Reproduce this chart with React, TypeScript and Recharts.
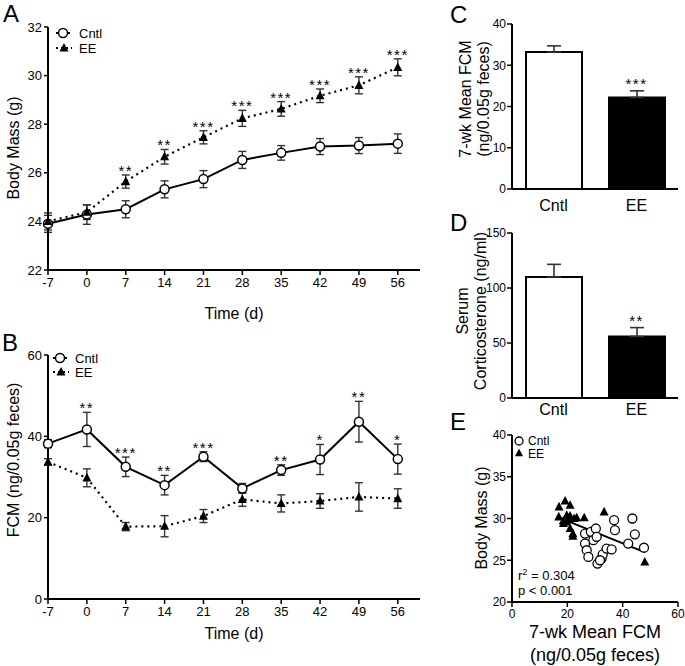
import React from "react";
import {
  ComposedChart,
  ScatterChart,
  Line,
  Bar,
  Cell,
  Scatter,
  XAxis,
  YAxis,
  ErrorBar,
  LabelList,
  Label,
  ReferenceLine,
} from "recharts";

const FONT = "'Liberation Sans', Arial, Helvetica, sans-serif";

// A / B: weekly time points
const days = [-7, 0, 7, 14, 21, 28, 35, 42, 49, 56];

// A: body mass (g)
const massCntl = [23.9, 24.28, 24.5, 25.32, 25.74, 26.53, 26.82, 27.08, 27.12, 27.2];
const massCntlErr = [0.35, 0.4, 0.35, 0.35, 0.35, 0.35, 0.3, 0.33, 0.33, 0.4];
const massEE = [24.0, 24.38, 25.64, 26.66, 27.46, 28.24, 28.63, 29.17, 29.6, 30.34];
const massEEErr = [0.35, 0.3, 0.27, 0.3, 0.27, 0.33, 0.3, 0.28, 0.35, 0.35];
const massStars = ["", "", "**", "**", "***", "***", "***", "***", "***", "***"];

// B: FCM (ng/0.05g feces)
const fcmCntl = [38.2, 41.7, 32.5, 28.0, 35.0, 27.2, 31.7, 34.3, 43.6, 34.4];
const fcmCntlErr = [1.0, 4.2, 2.4, 2.4, 1.2, 1.2, 1.3, 3.7, 5.0, 3.7];
const fcmEE = [33.7, 29.8, 17.8, 17.9, 20.4, 24.5, 23.5, 24.1, 25.1, 24.7];
const fcmEEErr = [0.8, 2.2, 1.0, 2.6, 1.6, 1.7, 2.1, 1.8, 3.5, 2.4];
const fcmStars = ["", "**", "***", "**", "***", "", "**", "*", "**", "*"];

// C / D: group bars
const groups = ["Cntl", "EE"];
const barFills = ["#fff", "#000"];
const meanFcm = [33.2, 22.2];
const meanFcmErr = [1.5, 1.6];
const meanFcmStars = ["", "***"];
const cort = [110, 55.9];
const cortErr = [11.5, 8.1];
const cortStars = ["", "**"];

// E: body mass vs 7-wk mean FCM
const cntlFcm = [26.4, 28.5, 30.3, 29.4, 30.6, 26.4, 27.0, 27.6, 30.9, 32.4, 32.8, 34.2, 36.0, 36.9, 37.2, 43.5, 44.4, 42.0, 47.7, 31.8];
const cntlMass = [28.2, 28.4, 28.8, 27.4, 27.8, 27.0, 26.2, 25.4, 24.6, 25.2, 25.7, 26.4, 26.3, 29.8, 28.6, 30.0, 28.1, 27.0, 26.5, 25.0];
const eeFcm = [19.2, 17.0, 21.0, 16.9, 19.8, 21.0, 22.5, 23.4, 26.1, 33.3, 18.6, 19.8, 21.0, 22.0, 22.0, 48.0, 20.3, 18.5];
const eeMass = [32.1, 31.4, 31.6, 30.2, 30.4, 30.3, 30.0, 30.1, 30.1, 30.8, 29.4, 29.6, 28.8, 28.2, 27.9, 24.8, 29.9, 29.7];
const fitFcm = [17, 47];
const fitMass = [30.1, 26.1];

const massData = days.map((d, i) => ({
  day: d,
  cntl: massCntl[i],
  cntlErr: massCntlErr[i],
  ee: massEE[i],
  eeErr: massEEErr[i],
  starY: massEE[i] + massEEErr[i],
  star: massStars[i],
}));

const fcmData = days.map((d, i) => ({
  day: d,
  cntl: fcmCntl[i],
  cntlErr: fcmCntlErr[i],
  ee: fcmEE[i],
  eeErr: fcmEEErr[i],
  starY: fcmCntl[i] + fcmCntlErr[i],
  star: fcmStars[i],
}));

const meanFcmData = groups.map((g, i) => ({
  group: g,
  v: meanFcm[i],
  err: [0, meanFcmErr[i]],
  starY: meanFcm[i] + meanFcmErr[i],
  star: meanFcmStars[i],
}));

const cortData = groups.map((g, i) => ({
  group: g,
  v: cort[i],
  err: [0, cortErr[i]],
  starY: cort[i] + cortErr[i],
  star: cortStars[i],
}));

const cntlPoints = cntlFcm.map((x, i) => ({ x, y: cntlMass[i] }));
const eePoints = eeFcm.map((x, i) => ({ x, y: eeMass[i] }));

const axisLine = { stroke: "#000", strokeWidth: 2 };
const tickLine = { stroke: "#000", strokeWidth: 1.5 };
const tickText = { fill: "#000", fontSize: 13, fontFamily: FONT };
const smallTick = { fill: "#000", fontSize: 12, fontFamily: FONT };
const catText = { fill: "#000", fontSize: 16, fontFamily: FONT };
const starStyle = { fill: "#000", fontSize: 15, fontFamily: FONT, letterSpacing: 1.5 };

const triPath = (cx: number, cy: number, s = 4.5) =>
  `M${cx},${cy - s - 0.5} L${cx + s},${cy + s * 0.8} L${cx - s},${cy + s * 0.8} Z`;

const CircleDot = (props: any) => {
  const { cx, cy } = props;
  if (cx == null || cy == null) return <g />;
  return <circle cx={cx} cy={cy} r={4.5} fill="#fff" stroke="#000" strokeWidth={1.5} />;
};

const TriangleDot = (props: any) => {
  const { cx, cy } = props;
  if (cx == null || cy == null) return <g />;
  return <path d={triPath(cx, cy)} fill="#000" />;
};

// rotated axis title, one or more lines
const VTitle = (props: any) => {
  const { lines, tx, ty, size = 16, gap = 19 } = props;
  return (
    <g>
      {lines.map((t: string, i: number) => {
        const x = tx + i * gap;
        return (
          <text
            key={i}
            x={x}
            y={ty}
            transform={`rotate(-90 ${x} ${ty})`}
            textAnchor="middle"
            dominantBaseline="central"
            fontSize={size}
            fontFamily={FONT}
            fill="#000"
          >
            {t}
          </text>
        );
      })}
    </g>
  );
};

const HTitle = (props: any) => {
  const { lines, tx, ty, size = 16, gap = 23 } = props;
  return (
    <g>
      {lines.map((t: string, i: number) => (
        <text
          key={i}
          x={tx}
          y={ty + i * gap}
          textAnchor="middle"
          dominantBaseline="central"
          fontSize={size}
          fontFamily={FONT}
          fill="#000"
        >
          {t}
        </text>
      ))}
    </g>
  );
};

const LegendKey = ({ x, y, kind, label, tx }: any) => (
  <g>
    {kind === "cntl" ? (
      <>
        <line x1={x - 7} y1={y} x2={x + 7} y2={y} stroke="#000" strokeWidth={2} />
        <circle cx={x} cy={y} r={4.5} fill="#fff" stroke="#000" strokeWidth={1.5} />
      </>
    ) : (
      <>
        <line x1={x - 8} y1={y} x2={x + 8} y2={y} stroke="#000" strokeWidth={2} strokeDasharray="2 3" />
        <path d={triPath(x, y)} fill="#000" />
      </>
    )}
    <text x={tx} y={y} dominantBaseline="central" fontSize={13} fontFamily={FONT} fill="#000">
      {label}
    </text>
  </g>
);

const TimeChart = ({ data, height, top, yDomain, yTicks, title, titleY, xTitleOffset }: any) => (
  <ComposedChart
    width={440}
    height={height}
    data={data}
    margin={{ top, right: 20, bottom: 0, left: 8 }}
  >
    <XAxis
      dataKey="day"
      type="number"
      domain={[-7, 60]}
      ticks={days}
      interval={0}
      height={height - top - (height === 330 ? 243 : 244)}
      axisLine={axisLine}
      tickLine={tickLine}
      tickSize={5}
      tickMargin={3}
      tick={tickText}
    >
      <Label value="Time (d)" position="insideBottom" offset={xTitleOffset} style={{ fontSize: 16, fontFamily: FONT, fill: "#000" }} />
    </XAxis>
    <YAxis
      type="number"
      domain={yDomain}
      ticks={yTicks}
      interval={0}
      width={40}
      axisLine={axisLine}
      tickLine={tickLine}
      tickSize={4}
      tickMargin={2}
      tick={tickText}
    >
      <Label content={<VTitle lines={[title]} tx={13} ty={titleY} />} />
    </YAxis>
    <Line
      dataKey="cntl"
      stroke="#000"
      strokeWidth={2}
      dot={CircleDot}
      activeDot={false}
      isAnimationActive={false}
    >
      <ErrorBar dataKey="cntlErr" width={4} stroke="#333" strokeWidth={1.4} />
    </Line>
    <Line
      dataKey="ee"
      stroke="#000"
      strokeWidth={2.2}
      strokeDasharray="2 4"
      dot={TriangleDot}
      activeDot={false}
      isAnimationActive={false}
    >
      <ErrorBar dataKey="eeErr" width={4} stroke="#333" strokeWidth={1.4} />
    </Line>
    <Line dataKey="starY" stroke="none" dot={false} activeDot={false} isAnimationActive={false}>
      <LabelList dataKey="star" position="top" offset={-1} style={starStyle} />
    </Line>
  </ComposedChart>
);

const BarPanel = ({ data, height, top, yDomain, yTicks, lines, titleX, titleY, catMargin }: any) => (
  <ComposedChart
    width={245}
    height={height}
    data={data}
    margin={{ top, right: 7, bottom: 0, left: 0 }}
  >
    <XAxis
      dataKey="group"
      type="category"
      height={height - top - 165}
      axisLine={axisLine}
      tickLine={false}
      tickSize={0}
      tickMargin={catMargin}
      tick={catText}
    />
    <YAxis
      type="number"
      domain={yDomain}
      ticks={yTicks}
      interval={0}
      width={72}
      axisLine={axisLine}
      tickLine={tickLine}
      tickSize={5}
      tickMargin={1}
      tick={smallTick}
    >
      <Label content={<VTitle lines={lines} tx={titleX} ty={titleY} size={16} gap={18} />} />
    </YAxis>
    <Bar dataKey="v" barSize={56} stroke="#000" strokeWidth={2} isAnimationActive={false}>
      {data.map((_: any, i: number) => (
        <Cell key={i} fill={barFills[i]} />
      ))}
      <ErrorBar dataKey="err" width={7} stroke="#333" strokeWidth={1.6} />
    </Bar>
    <Line dataKey="starY" stroke="none" dot={false} activeDot={false} isAnimationActive={false}>
      <LabelList dataKey="star" position="top" offset={2} style={starStyle} />
    </Line>
  </ComposedChart>
);

const ScatterPanel = () => (
  <ScatterChart width={245} height={246} margin={{ top: 15, right: 7, bottom: 0, left: 0 }}>
    <XAxis
      dataKey="x"
      type="number"
      domain={[0, 60]}
      ticks={[0, 20, 40, 60]}
      interval={0}
      height={64}
      axisLine={axisLine}
      tickLine={tickLine}
      tickSize={5}
      tickMargin={2}
      tick={smallTick}
    >
      <Label content={<HTitle lines={["7-wk Mean FCM", "(ng/0.05g feces)"]} tx={155} ty={212} size={18} gap={23} />} />
    </XAxis>
    <YAxis
      dataKey="y"
      type="number"
      domain={[20, 40]}
      ticks={[20, 25, 30, 35, 40]}
      interval={0}
      width={72}
      axisLine={axisLine}
      tickLine={tickLine}
      tickSize={5}
      tickMargin={1}
      tick={smallTick}
    >
      <Label content={<VTitle lines={["Body Mass (g)"]} tx={41} ty={98} size={16} />} />
    </YAxis>
    <Scatter
      data={cntlPoints}
      isAnimationActive={false}
      shape={(p: any) => <circle cx={p.cx} cy={p.cy} r={4.5} fill="#fff" stroke="#000" strokeWidth={1.3} />}
    />
    <Scatter
      data={eePoints}
      isAnimationActive={false}
      shape={(p: any) => <path d={triPath(p.cx, p.cy)} fill="#000" />}
    />
    <ReferenceLine
      segment={[
        { x: fitFcm[0], y: fitMass[0] },
        { x: fitFcm[1], y: fitMass[1] },
      ]}
      stroke="#000"
      strokeWidth={2}
    />
  </ScatterChart>
);

const letterStyle = { fontSize: 24, fontFamily: FONT, fill: "#000" };

export default function App() {
  return (
    <div style={{ position: "absolute", left: 0, top: 0, width: 685, height: 666, background: "#fff", fontFamily: FONT }}>
      <div style={{ position: "absolute", left: 0, top: 0 }}>
        <TimeChart data={massData} height={330} top={27} yDomain={[22, 32]} yTicks={[22, 24, 26, 28, 30, 32]} title="Body Mass (g)" titleY={148} xTitleOffset={11} />
      </div>
      <div style={{ position: "absolute", left: 0, top: 330 }}>
        <TimeChart data={fcmData} height={336} top={25} yDomain={[0, 60]} yTicks={[0, 20, 40, 60]} title="FCM (ng/0.05g feces)" titleY={130} xTitleOffset={27} />
      </div>
      <div style={{ position: "absolute", left: 440, top: 0 }}>
        <BarPanel data={meanFcmData} height={215} top={24} yDomain={[0, 40]} yTicks={[0, 10, 20, 30, 40]} lines={["7-wk Mean FCM", "(ng/0.05g feces)"]} titleX={25} titleY={99} catMargin={11} />
      </div>
      <div style={{ position: "absolute", left: 440, top: 215 }}>
        <BarPanel data={cortData} height={205} top={18} yDomain={[0, 150]} yTicks={[0, 50, 100, 150]} lines={["Serum", "Corticosterone (ng/ml)"]} titleX={22} titleY={96} catMargin={6} />
      </div>
      <div style={{ position: "absolute", left: 440, top: 420 }}>
        <ScatterPanel />
      </div>
      <svg width={685} height={666} style={{ position: "absolute", left: 0, top: 0, pointerEvents: "none" }}>
        <text x={3} y={22} style={letterStyle}>A</text>
        <text x={2} y={351} style={letterStyle}>B</text>
        <text x={450} y={23} style={letterStyle}>C</text>
        <text x={450} y={231} style={letterStyle}>D</text>
        <text x={450} y={430} style={letterStyle}>E</text>
        <LegendKey x={63} y={33} kind="cntl" label="Cntl" tx={79} />
        <LegendKey x={64} y={48} kind="ee" label="EE" tx={79} />
        <LegendKey x={60} y={358} kind="cntl" label="Cntl" tx={75} />
        <LegendKey x={61} y={372} kind="ee" label="EE" tx={75} />
        <circle cx={519} cy={441} r={4} fill="#fff" stroke="#000" strokeWidth={1.3} />
        <text x={528} y={441} dominantBaseline="central" fontSize={12} fontFamily={FONT}>Cntl</text>
        <path d={triPath(519, 453, 4)} fill="#000" />
        <text x={528} y={454} dominantBaseline="central" fontSize={12} fontFamily={FONT}>EE</text>
        <text x={518} y={580} fontSize={13} fontFamily={FONT}>
          r<tspan dy={-5} fontSize={9}>2</tspan>
          <tspan dy={5}> = 0.304</tspan>
        </text>
        <text x={518} y={595} fontSize={13} fontFamily={FONT}>p &lt; 0.001</text>
      </svg>
    </div>
  );
}
